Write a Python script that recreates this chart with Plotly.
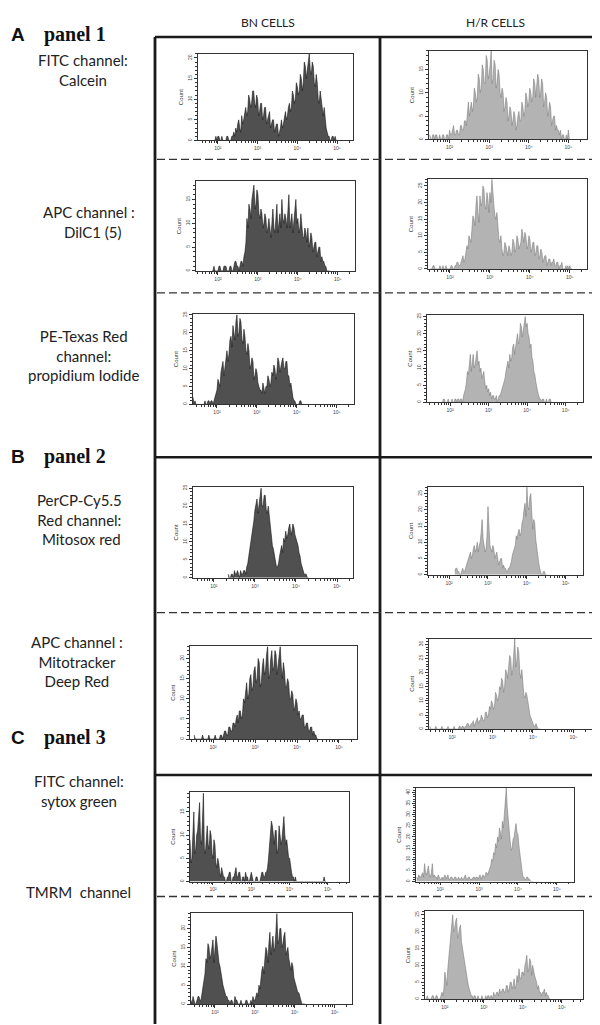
import plotly.graph_objects as go

# ---------------- DATA ----------------
STEP = 0.025  # histogram bin width in log10 units

column_titles = ["BN CELLS", "H/R CELLS"]
panel_letters = ["A", "B", "C"]
panel_names = ["panel 1", "panel 2", "panel 3"]
row_labels = [
    "FITC channel:<br>Calcein",
    "APC channel :<br>  DilC1 (5)",
    "PE-Texas Red<br>channel:<br>propidium Iodide",
    "PerCP-Cy5.5<br>Red channel:<br> Mitosox red",
    "APC channel :<br>Mitotracker<br>Deep Red",
    "FITC channel:<br>sytox green",
    "TMRM  channel",
]
decade_vals = [100, 1000, 10000, 100000]
decade_text = ["10²", "10³", "10⁴", "10⁵"]

# start (log10 of first bin) and counts for each histogram
a1_bn_start = 1.90
a1_bn = [0, 0, 1, 0, 1, 1, 0, 0, 1, 0, 0, 0, 0, 1, 1, 0, 0, 0, 1, 1,
         2, 1, 3, 2, 4, 5, 3, 2, 6, 4, 5, 7, 8, 6, 7, 11, 10, 8, 9, 12,
         12, 9, 8, 11, 10, 6, 7, 9, 9, 5, 6, 8, 8, 4, 5, 6, 7, 3, 4, 5,
         5, 2, 3, 4, 4, 1, 2, 3, 5, 3, 4, 6, 7, 5, 6, 8, 9, 7, 8, 12,
         11, 9, 10, 14, 13, 11, 12, 16, 15, 12, 14, 19, 18, 15, 17, 20, 21, 17, 16, 19,
         18, 14, 13, 16, 14, 10, 9, 12, 10, 7, 6, 8, 5, 3, 2, 1, 1, 0, 0, 1,
         1, 0, 1, 0, 0]
a1_hr_start = 1.50
a1_hr = [1, 0, 0, 1, 1, 0, 1, 1, 0, 0, 1, 0, 0, 1, 1, 0, 0, 1, 1, 0,
         2, 1, 1, 2, 3, 1, 1, 2, 2, 1, 1, 3, 3, 2, 2, 4, 4, 3, 6, 8,
         5, 7, 8, 6, 7, 11, 10, 8, 9, 14, 13, 10, 11, 16, 15, 12, 12, 18, 17, 13,
         14, 16, 19, 12, 13, 17, 16, 11, 12, 15, 14, 10, 9, 11, 10, 6, 7, 9, 8, 4,
         5, 7, 6, 3, 4, 6, 5, 2, 3, 5, 6, 4, 4, 8, 7, 5, 6, 10, 9, 7,
         8, 11, 10, 8, 9, 13, 12, 9, 11, 14, 13, 9, 10, 13, 12, 7, 8, 10, 9, 5,
         6, 8, 7, 3, 4, 5, 5, 2, 3, 2, 2, 1, 2, 0, 1, 1, 0, 0, 1, 0,
         2, 0, 0]
a2_bn_start = 1.85
a2_bn = [0, 0, 1, 0, 0, 0, 0, 1, 1, 0, 0, 0, 1, 1, 1, 0, 0, 0, 1, 1,
         0, 0, 1, 2, 2, 1, 1, 0, 1, 2, 2, 1, 3, 4, 6, 11, 9, 14, 13, 11,
         15, 17, 18, 13, 14, 17, 16, 12, 11, 13, 12, 9, 10, 12, 11, 8, 9, 11, 8, 7,
         10, 13, 9, 8, 11, 14, 8, 10, 12, 9, 15, 11, 10, 12, 11, 9, 13, 16, 9, 11,
         12, 8, 10, 13, 15, 10, 11, 8, 9, 12, 10, 7, 7, 9, 8, 6, 9, 5, 6, 8,
         7, 4, 5, 6, 6, 3, 4, 5, 5, 2, 3, 2, 2, 1, 1, 0, 0, 0, 0]
a2_hr_start = 1.50
a2_hr = [0, 0, 0, 1, 1, 0, 0, 0, 0, 0, 1, 0, 0, 1, 0, 0, 1, 0, 0, 0,
         0, 1, 1, 0, 0, 1, 1, 2, 2, 1, 1, 2, 3, 4, 2, 3, 5, 7, 6, 10,
         9, 8, 12, 16, 15, 13, 19, 22, 17, 14, 22, 19, 20, 25, 24, 19, 18, 23, 21, 17,
         23, 20, 27, 22, 19, 16, 15, 17, 12, 9, 8, 10, 6, 4, 5, 8, 7, 5, 4, 7,
         6, 4, 5, 9, 8, 5, 6, 10, 9, 6, 7, 8, 12, 9, 8, 11, 10, 6, 7, 10,
         9, 5, 6, 8, 8, 4, 5, 7, 7, 3, 4, 6, 5, 2, 3, 4, 4, 1, 2, 3,
         3, 1, 2, 2, 3, 1, 1, 2, 2, 0, 1, 1, 2, 0, 0, 0, 1, 0, 1, 0,
         1, 0, 0]
a3_bn_start = 1.40
a3_bn = [2, 0, 1, 0, 0, 0, 0, 0, 0, 0, 0, 0, 1, 0, 0, 1, 1, 0, 1, 1,
         0, 1, 2, 3, 4, 7, 6, 5, 9, 11, 12, 8, 11, 14, 15, 12, 14, 18, 19, 16,
         22, 20, 18, 23, 25, 19, 20, 24, 23, 18, 17, 21, 19, 15, 14, 17, 15, 10, 11, 13,
         12, 7, 8, 10, 9, 6, 5, 4, 4, 3, 6, 4, 3, 5, 5, 8, 7, 5, 6, 9,
         8, 11, 10, 7, 9, 13, 12, 9, 11, 12, 13, 10, 10, 12, 12, 8, 8, 5, 6, 3,
         2, 1, 1, 0, 0, 0, 0, 1, 1, 0, 0, 0, 0]
a3_hr_start = 1.50
a3_hr = [0, 0, 0, 0, 0, 0, 0, 0, 0, 0, 0, 0, 0, 1, 1, 0, 0, 0, 1, 0,
         0, 0, 1, 0, 0, 1, 1, 0, 1, 1, 0, 1, 1, 0, 2, 3, 4, 6, 9, 8,
         12, 14, 9, 11, 14, 10, 11, 13, 15, 11, 12, 9, 10, 7, 8, 9, 6, 4, 5, 3,
         4, 2, 3, 1, 2, 2, 1, 1, 2, 0, 1, 2, 2, 3, 4, 5, 6, 7, 9, 11,
         12, 10, 14, 12, 13, 16, 17, 14, 16, 19, 20, 17, 18, 23, 22, 19, 21, 24, 25, 22,
         23, 20, 19, 16, 17, 13, 12, 9, 8, 6, 4, 3, 2, 1, 1, 0, 1, 1, 0, 0,
         1, 0, 0, 1, 1, 0, 0]
b1_bn_start = 2.35
b1_bn = [1, 0, 0, 1, 1, 0, 2, 1, 1, 2, 1, 0, 2, 1, 1, 2, 2, 1, 3, 4,
         6, 8, 9, 11, 14, 16, 19, 21, 22, 18, 21, 24, 25, 20, 20, 23, 23, 19, 18, 20,
         17, 13, 11, 9, 8, 6, 4, 3, 3, 4, 6, 8, 9, 7, 11, 10, 13, 11, 12, 14,
         15, 12, 13, 15, 14, 12, 11, 10, 9, 7, 6, 4, 3, 2, 1, 1, 1, 0, 0]
b1_hr_start = 2.15
b1_hr = [1, 2, 2, 1, 1, 0, 0, 1, 2, 1, 1, 2, 3, 4, 5, 6, 7, 5, 6, 8,
         9, 7, 8, 10, 7, 9, 10, 13, 17, 11, 9, 7, 8, 12, 21, 13, 9, 8, 7, 9,
         8, 5, 6, 7, 5, 3, 4, 5, 5, 2, 3, 2, 2, 1, 1, 2, 2, 3, 4, 6,
         7, 8, 9, 12, 11, 13, 14, 12, 13, 16, 17, 20, 22, 18, 27, 21, 20, 24, 25, 19,
         14, 17, 16, 11, 8, 6, 4, 2, 1, 0, 0, 1, 1, 0, 0]
b2_bn_start = 1.55
b2_bn = [1, 0, 0, 0, 0, 0, 0, 0, 1, 0, 0, 0, 0, 0, 1, 0, 0, 0, 0, 0,
         1, 0, 0, 0, 0, 1, 1, 0, 1, 2, 2, 1, 1, 3, 3, 2, 2, 4, 4, 3,
         5, 6, 4, 7, 7, 5, 6, 10, 9, 12, 14, 10, 11, 15, 16, 12, 13, 17, 18, 14,
         15, 20, 19, 13, 14, 18, 20, 16, 17, 21, 23, 15, 16, 20, 22, 17, 18, 22, 21, 16,
         19, 22, 23, 18, 15, 19, 17, 13, 13, 15, 14, 10, 10, 12, 11, 7, 8, 10, 9, 6,
         7, 5, 5, 6, 6, 3, 3, 4, 4, 2, 2, 3, 3, 1, 2, 1, 1, 0, 0]
b2_hr_start = 1.45
b2_hr = [1, 0, 0, 0, 0, 0, 1, 0, 0, 0, 0, 0, 1, 0, 0, 0, 0, 0, 1, 0,
         0, 0, 0, 0, 1, 0, 0, 0, 0, 1, 1, 0, 1, 1, 0, 1, 1, 2, 2, 1,
         1, 2, 2, 3, 1, 2, 3, 4, 2, 3, 3, 5, 4, 3, 3, 6, 6, 4, 5, 8,
         7, 10, 9, 7, 8, 13, 12, 10, 11, 15, 14, 18, 17, 13, 15, 21, 20, 18, 22, 26,
         25, 19, 21, 28, 32, 22, 24, 29, 27, 20, 18, 21, 15, 12, 11, 13, 12, 9, 7, 5,
         4, 3, 2, 1, 1, 2, 1, 0, 0, 0, 0]
c1_bn_start = 1.40
c1_bn = [9, 4, 5, 12, 15, 6, 7, 10, 11, 14, 17, 9, 8, 13, 19, 7, 6, 9, 12, 8,
         7, 11, 10, 6, 5, 9, 8, 4, 3, 5, 4, 2, 1, 3, 2, 1, 1, 0, 0, 1,
         1, 2, 2, 0, 0, 1, 1, 2, 3, 1, 1, 2, 2, 0, 0, 1, 1, 0, 2, 1,
         1, 0, 0, 1, 2, 1, 0, 0, 0, 1, 1, 0, 0, 0, 1, 2, 2, 1, 1, 2,
         2, 3, 5, 8, 9, 13, 12, 9, 8, 11, 11, 6, 7, 12, 10, 8, 9, 11, 14, 10,
         8, 9, 6, 5, 5, 3, 2, 1, 1, 0, 1, 0, 0, 0, 0, 0, 0, 0, 0, 0,
         0, 0, 0, 0, 0, 0, 0, 0, 0, 0, 0, 0, 0, 0, 0, 0, 0, 0, 0, 0,
         1, 0, 0]
c1_hr_start = 1.40
c1_hr = [2, 1, 3, 2, 2, 3, 4, 2, 8, 4, 3, 5, 7, 3, 2, 4, 8, 2, 3, 2,
         2, 1, 3, 2, 1, 1, 2, 1, 2, 3, 1, 2, 3, 1, 1, 2, 2, 1, 1, 2,
         2, 1, 1, 2, 1, 1, 2, 1, 1, 2, 3, 1, 1, 2, 2, 1, 1, 1, 2, 2,
         1, 2, 2, 1, 2, 3, 1, 2, 3, 2, 2, 4, 4, 3, 5, 6, 7, 10, 9, 13,
         12, 17, 15, 20, 18, 24, 22, 19, 27, 24, 30, 36, 42, 33, 28, 20, 18, 14, 15, 19,
         20, 23, 26, 22, 21, 16, 12, 7, 3, 2, 2, 1, 1, 2, 2, 1, 1, 0, 0, 0,
         0]
c2_bn_start = 1.40
c2_bn = [1, 0, 2, 1, 0, 0, 1, 2, 2, 1, 1, 3, 4, 6, 8, 12, 11, 16, 15, 12,
         13, 15, 17, 11, 14, 18, 16, 13, 11, 10, 8, 6, 5, 4, 3, 2, 2, 1, 1, 0,
         1, 1, 0, 0, 2, 1, 1, 0, 0, 0, 1, 0, 0, 0, 0, 1, 1, 0, 0, 0,
         1, 0, 2, 1, 1, 2, 3, 2, 5, 4, 7, 9, 10, 8, 12, 15, 14, 11, 16, 19,
         13, 17, 18, 14, 15, 19, 24, 16, 17, 20, 20, 15, 16, 18, 19, 13, 14, 15, 12, 10,
         9, 11, 10, 7, 6, 5, 4, 3, 3, 2, 1, 0, 0, 0, 0]
c2_hr_start = 1.50
c2_hr = [0, 0, 1, 0, 0, 0, 0, 1, 1, 0, 0, 1, 1, 0, 0, 0, 1, 2, 1, 3,
         8, 5, 4, 9, 12, 16, 18, 22, 25, 20, 21, 23, 24, 18, 19, 21, 22, 17, 15, 13,
         12, 10, 8, 6, 4, 3, 2, 1, 1, 0, 1, 1, 0, 0, 1, 0, 0, 0, 1, 0,
         0, 0, 1, 0, 1, 1, 0, 1, 1, 0, 2, 1, 1, 2, 2, 1, 3, 2, 2, 3,
         3, 2, 2, 4, 4, 2, 3, 5, 5, 3, 4, 6, 3, 4, 7, 5, 9, 6, 6, 8,
         8, 7, 10, 11, 13, 8, 9, 12, 11, 7, 10, 8, 7, 6, 5, 3, 4, 2, 2, 1,
         2, 2, 3, 1, 2, 1, 1, 0, 0]

# per histogram: (start, counts, group, x-range(log10), y max)
histograms = [
    (a1_bn_start, a1_bn, "BN", (1.50, 5.40), 21.0),
    (a1_hr_start, a1_hr, "HR", (1.48, 5.47), 19.0),
    (a2_bn_start, a2_bn, "BN", (1.45, 5.43), 18.8),
    (a2_hr_start, a2_hr, "HR", (1.45, 5.43), 27.0),
    (a3_bn_start, a3_bn, "BN", (1.40, 5.43), 25.3),
    (a3_hr_start, a3_hr, "HR", (1.40, 5.45), 25.5),
    (b1_bn_start, b1_bn, "BN", (1.49, 5.39), 25.3),
    (b1_hr_start, b1_hr, "HR", (1.46, 5.44), 27.0),
    (b2_bn_start, b2_bn, "BN", (1.45, 5.43), 23.0),
    (b2_hr_start, b2_hr, "HR", (1.43, 5.46), 32.0),
    (c1_bn_start, c1_bn, "BN", (1.40, 5.55), 19.3),
    (c1_hr_start, c1_hr, "HR", (1.38, 5.44), 42.0),
    (c2_bn_start, c2_bn, "BN", (1.40, 5.43), 24.0),
    (c2_hr_start, c2_hr, "HR", (1.49, 5.54), 26.0),
]

# ---------------- LAYOUT (pixel boxes, page coordinates) ----------------
PAGE_OFF = 8            # browser body margin
W, H = 600 - PAGE_OFF, 1025 - PAGE_OFF
boxes = [  # x0, x1, y0(top), y1(bottom) in page pixels
    (198, 353, 51, 138), (429, 587, 48, 137),
    (196, 355, 179, 269), (428, 587, 177, 267),
    (193, 354, 312, 403), (427, 583, 313, 401),
    (193, 353, 486, 577), (428, 583, 486, 574),
    (190, 357, 646, 739), (429, 592, 638, 729),
    (190, 349, 792, 882), (416, 574, 788, 882),
    (191, 352, 914, 1005), (425, 583, 912, 1000),
]

STYLE = {
    "BN": dict(fill="#505050", line="#151515"),
    "HR": dict(fill="#b3b3b3", line="#7f7f7f"),
}

minor_x = [m * 10 ** e for e in range(1, 6) for m in range(2, 10)]


def px(x):
    return (x - PAGE_OFF) / W


def py(y):
    return 1 - (y - PAGE_OFF) / H


fig = go.Figure()
layout_axes = {}
for i, ((start, counts, grp, xr, ymax), (x0, x1, y0, y1)) in enumerate(zip(histograms, boxes)):
    n = i + 1
    sfx = "" if n == 1 else str(n)
    xs = [10 ** (start + STEP * k) for k in range(len(counts))]
    st = STYLE[grp]
    fig.add_trace(go.Scatter(
        x=xs, y=counts, mode="lines",
        line=dict(color=st["line"], width=0.6),
        fill="tozeroy", fillcolor=st["fill"],
        xaxis="x" + sfx, yaxis="y" + sfx,
        showlegend=False, hoverinfo="skip",
    ))
    layout_axes["xaxis" + sfx] = dict(
        type="log", range=list(xr), domain=[px(x0), px(x1)],
        anchor="y" + sfx, showgrid=False, zeroline=False,
        showline=True, mirror=True, linecolor="#333", linewidth=0.8,
        ticks="outside", ticklen=3, tickwidth=0.8, tickcolor="#333",
        tickmode="array", tickvals=decade_vals, ticktext=decade_text,
        tickfont=dict(size=5, color="#444", family="Liberation Sans"),
        minor=dict(ticks="outside", ticklen=2, tickwidth=0.6, tickcolor="#333",
                   tickmode="array", tickvals=minor_x, showgrid=False),
    )
    layout_axes["yaxis" + sfx] = dict(
        range=[0, ymax], domain=[py(y1), py(y0)],
        anchor="x" + sfx, showgrid=False, zeroline=False,
        showline=True, mirror=True, linecolor="#333", linewidth=0.8,
        ticks="outside", ticklen=3, tickwidth=0.8, tickcolor="#333",
        dtick=5, tickangle=-90,
        tickfont=dict(size=5, color="#444", family="Liberation Sans"),
        minor=dict(ticks="outside", ticklen=2, tickwidth=0.6, tickcolor="#333",
                   dtick=1, showgrid=False),
        title=dict(text="Count", font=dict(size=6, color="#333", family="Liberation Sans"),
                   standoff=2),
    )

shapes = []
FRAME = "#1a1a1a"
shapes.append(dict(type="line", xref="paper", yref="paper",
                   x0=px(155), x1=px(600), y0=py(34), y1=py(34),
                   line=dict(color=FRAME, width=2.5)))
for yy in (456, 775):
    shapes.append(dict(type="line", xref="paper", yref="paper",
                       x0=px(155), x1=px(600), y0=py(yy), y1=py(yy),
                       line=dict(color=FRAME, width=2.5)))
for xx in (155, 380):
    shapes.append(dict(type="line", xref="paper", yref="paper",
                       x0=px(xx), x1=px(xx), y0=py(34), y1=py(1025),
                       line=dict(color=FRAME, width=2.8)))
for yy in (157, 291, 612, 897):
    shapes.append(dict(type="line", xref="paper", yref="paper",
                       x0=px(157), x1=px(600), y0=py(yy), y1=py(yy),
                       line=dict(color="#333333", width=1.4, dash="8px,4px")))

annotations = []
for title, cx in zip(column_titles, (268, 495)):
    annotations.append(dict(text=title, x=px(cx), y=py(20), xref="paper", yref="paper",
                            showarrow=False, xanchor="center", yanchor="middle",
                            font=dict(family="Lato", size=12, color="#222")))
for letter, name, cy in zip(panel_letters, panel_names, (32, 455, 737)):
    annotations.append(dict(text="<b>" + letter + "</b>", x=px(18), y=py(cy),
                            xref="paper", yref="paper", showarrow=False,
                            xanchor="center", yanchor="middle",
                            font=dict(family="Liberation Sans", size=19, color="#111")))
    annotations.append(dict(text="<b>" + name + "</b>", x=px(42), y=py(cy),
                            xref="paper", yref="paper", showarrow=False,
                            xanchor="left", yanchor="middle",
                            font=dict(family="Liberation Serif", size=20, color="#111")))
for text, (cx, cy) in zip(row_labels, [(83, 67), (89, 220), (83, 354),
                                        (79, 519), (77, 661), (79, 791), (78, 892)]):
    annotations.append(dict(text=text, x=px(cx), y=py(cy), xref="paper", yref="paper",
                            showarrow=False, xanchor="center", yanchor="middle",
                            align="center",
                            font=dict(family="Lato", size=15, color="#222")))

fig.update_layout(
    width=W, height=H,
    margin=dict(l=0, r=0, t=0, b=0),
    paper_bgcolor="white", plot_bgcolor="white",
    shapes=shapes, annotations=annotations,
    **layout_axes,
)

fig.write_html("out.html")
